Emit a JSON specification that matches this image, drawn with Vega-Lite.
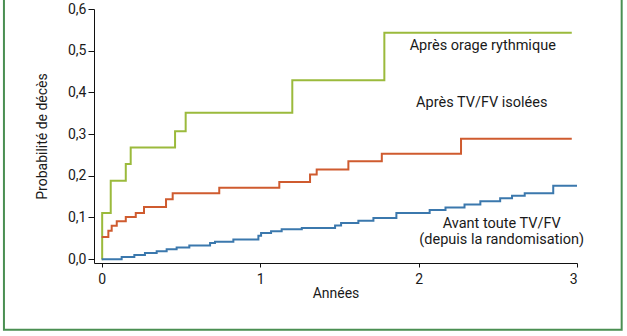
{
  "$schema": "https://vega.github.io/schema/vega-lite/v6.json",
  "width": 483,
  "height": 254,
  "autosize": {"type": "none"},
  "padding": {"left": 94, "top": 9, "right": 50, "bottom": 73},
  "background": "white",
  "config": {
    "view": {"stroke": null},
    "font": "Roboto",
    "axis": {"labelFont": "Roboto", "titleFont": "Roboto", "labelColor": "#1a1a1a", "titleColor": "#1a1a1a", "domainColor": "#111", "tickColor": "#111", "grid": false}
  },
  "datasets": {
    "curves": [
      {"serie": "Après orage rythmique", "t": 0, "p": 0},
      {"serie": "Après orage rythmique", "t": 0.003, "p": 0.111},
      {"serie": "Après orage rythmique", "t": 0.057, "p": 0.188},
      {"serie": "Après orage rythmique", "t": 0.152, "p": 0.228},
      {"serie": "Après orage rythmique", "t": 0.183, "p": 0.268},
      {"serie": "Après orage rythmique", "t": 0.463, "p": 0.307},
      {"serie": "Après orage rythmique", "t": 0.530, "p": 0.351},
      {"serie": "Après orage rythmique", "t": 1.203, "p": 0.429},
      {"serie": "Après orage rythmique", "t": 1.784, "p": 0.543},
      {"serie": "Après orage rythmique", "t": 2.967, "p": 0.543},
      {"serie": "Après TV/FV isolées", "t": 0, "p": 0.053},
      {"serie": "Après TV/FV isolées", "t": 0.042, "p": 0.068},
      {"serie": "Après TV/FV isolées", "t": 0.063, "p": 0.080},
      {"serie": "Après TV/FV isolées", "t": 0.095, "p": 0.091},
      {"serie": "Après TV/FV isolées", "t": 0.152, "p": 0.101},
      {"serie": "Après TV/FV isolées", "t": 0.215, "p": 0.111},
      {"serie": "Après TV/FV isolées", "t": 0.267, "p": 0.125},
      {"serie": "Après TV/FV isolées", "t": 0.406, "p": 0.144},
      {"serie": "Après TV/FV isolées", "t": 0.448, "p": 0.158},
      {"serie": "Après TV/FV isolées", "t": 0.742, "p": 0.171},
      {"serie": "Après TV/FV isolées", "t": 1.121, "p": 0.185},
      {"serie": "Après TV/FV isolées", "t": 1.315, "p": 0.203},
      {"serie": "Après TV/FV isolées", "t": 1.357, "p": 0.215},
      {"serie": "Après TV/FV isolées", "t": 1.557, "p": 0.235},
      {"serie": "Après TV/FV isolées", "t": 1.768, "p": 0.253},
      {"serie": "Après TV/FV isolées", "t": 2.268, "p": 0.289},
      {"serie": "Après TV/FV isolées", "t": 2.967, "p": 0.289},
      {"serie": "Avant toute TV/FV", "t": 0, "p": 0},
      {"serie": "Avant toute TV/FV", "t": 0.126, "p": 0.005},
      {"serie": "Avant toute TV/FV", "t": 0.206, "p": 0.010},
      {"serie": "Avant toute TV/FV", "t": 0.273, "p": 0.015},
      {"serie": "Avant toute TV/FV", "t": 0.347, "p": 0.019},
      {"serie": "Avant toute TV/FV", "t": 0.410, "p": 0.024},
      {"serie": "Avant toute TV/FV", "t": 0.473, "p": 0.028},
      {"serie": "Avant toute TV/FV", "t": 0.553, "p": 0.033},
      {"serie": "Avant toute TV/FV", "t": 0.684, "p": 0.039},
      {"serie": "Avant toute TV/FV", "t": 0.715, "p": 0.042},
      {"serie": "Avant toute TV/FV", "t": 0.831, "p": 0.047},
      {"serie": "Avant toute TV/FV", "t": 0.989, "p": 0.056},
      {"serie": "Avant toute TV/FV", "t": 1.006, "p": 0.063},
      {"serie": "Avant toute TV/FV", "t": 1.069, "p": 0.067},
      {"serie": "Avant toute TV/FV", "t": 1.136, "p": 0.072},
      {"serie": "Avant toute TV/FV", "t": 1.263, "p": 0.075},
      {"serie": "Avant toute TV/FV", "t": 1.473, "p": 0.081},
      {"serie": "Avant toute TV/FV", "t": 1.511, "p": 0.087},
      {"serie": "Avant toute TV/FV", "t": 1.620, "p": 0.092},
      {"serie": "Avant toute TV/FV", "t": 1.715, "p": 0.099},
      {"serie": "Avant toute TV/FV", "t": 1.860, "p": 0.111},
      {"serie": "Avant toute TV/FV", "t": 2.070, "p": 0.118},
      {"serie": "Avant toute TV/FV", "t": 2.170, "p": 0.124},
      {"serie": "Avant toute TV/FV", "t": 2.290, "p": 0.131},
      {"serie": "Avant toute TV/FV", "t": 2.390, "p": 0.139},
      {"serie": "Avant toute TV/FV", "t": 2.515, "p": 0.146},
      {"serie": "Avant toute TV/FV", "t": 2.590, "p": 0.152},
      {"serie": "Avant toute TV/FV", "t": 2.670, "p": 0.158},
      {"serie": "Avant toute TV/FV", "t": 2.850, "p": 0.176},
      {"serie": "Avant toute TV/FV", "t": 3.0, "p": 0.176}
    ],
    "labels": [
      {"label": "Après orage rythmique", "t": 2.405, "p": 0.511},
      {"label": "Après TV/FV isolées", "t": 2.399, "p": 0.375},
      {"label": "Avant toute TV/FV", "t": 2.525, "p": 0.085},
      {"label": "(depuis la randomisation)", "t": 2.525, "p": 0.045}
    ]
  },
  "layer": [
    {
      "data": {"values": [{}]},
      "mark": {"type": "rect", "filled": false, "stroke": "#4a8f52", "strokeWidth": 2, "clip": false},
      "encoding": {
        "x": {"datum": -0.617, "type": "quantitative", "scale": {"domain": [-0.0486, 3], "nice": false, "zero": false}},
        "x2": {"datum": 3.282},
        "y": {"datum": -0.169, "type": "quantitative"},
        "y2": {"datum": 0.65}
      }
    },
    {
      "data": {"name": "curves"},
      "mark": {"type": "line", "interpolate": "step-after", "strokeWidth": 2},
      "encoding": {
        "x": {
          "field": "t", "type": "quantitative",
          "scale": {"domain": [-0.0486, 3], "nice": false, "zero": false},
          "axis": {"values": [0, 1, 2, 3], "title": "Années", "tickSize": 4, "labelPadding": 5, "labelFontSize": 14, "titleFontSize": 14, "titleFontWeight": "normal", "titlePadding": 0, "format": "d"}
        },
        "y": {
          "field": "p", "type": "quantitative",
          "scale": {"domain": [-0.0092, 0.6], "nice": false, "zero": false},
          "axis": {"values": [0, 0.1, 0.2, 0.3, 0.4, 0.5, 0.6], "title": "Probabilité de décès", "tickSize": 6, "labelPadding": 2, "labelFontSize": 14, "titleFontSize": 14, "titleFontWeight": "normal", "titlePadding": 18, "labelExpr": "replace(format(datum.value, '.1f'), '.', ',')"}
        },
        "color": {
          "field": "serie", "type": "nominal", "legend": null,
          "scale": {"domain": ["Après orage rythmique", "Après TV/FV isolées", "Avant toute TV/FV"], "range": ["#9bba3c", "#cf5b2f", "#3b78ad"]}
        }
      }
    },
    {
      "data": {"name": "labels"},
      "mark": {"type": "text", "fontSize": 14.5, "color": "#1a1a1a", "align": "center", "baseline": "middle"},
      "encoding": {
        "x": {"field": "t", "type": "quantitative"},
        "y": {"field": "p", "type": "quantitative"},
        "text": {"field": "label"}
      }
    }
  ]
}
